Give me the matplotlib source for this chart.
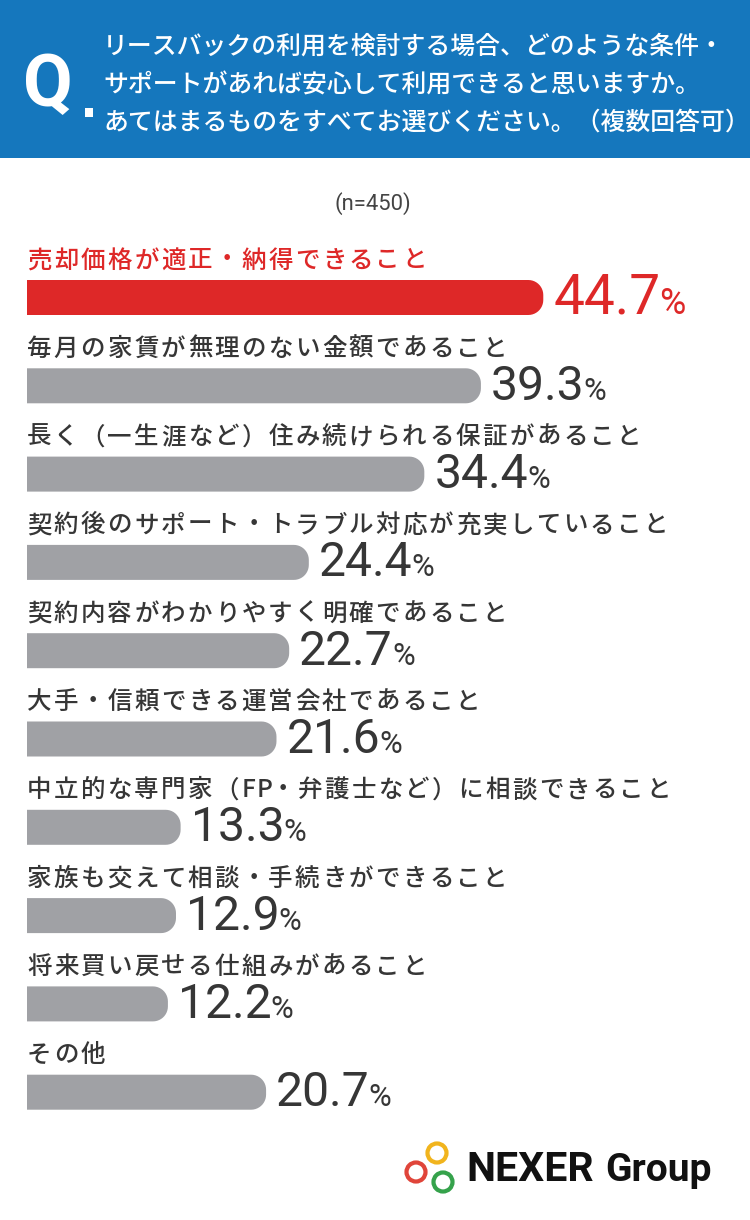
import matplotlib
matplotlib.use("Agg")
import numpy as np
import matplotlib.pyplot as plt
from matplotlib.patches import Rectangle, Circle, PathPatch
from matplotlib.path import Path

plt.rcParams['font.family'] = ['Noto Sans CJK JP', 'DejaVu Sans']

# data
question = [
    "リースバックの利用を検討する場合、どのような条件・",
    "サポートがあれば安心して利用できると思いますか。",
    "あてはまるものをすべてお選びください。（複数回答可）",
]
sample = "(n=450)"
labels = [
    "売却価格が適正・納得できること",
    "毎月の家賃が無理のない金額であること",
    "長く（一生涯など）住み続けられる保証があること",
    "契約後のサポート・トラブル対応が充実していること",
    "契約内容がわかりやすく明確であること",
    "大手・信頼できる運営会社であること",
    "中立的な専門家（FP・弁護士など）に相談できること",
    "家族も交えて相談・手続きができること",
    "将来買い戻せる仕組みがあること",
    "その他",
]
values = [44.7, 39.3, 34.4, 24.4, 22.7, 21.6, 13.3, 12.9, 12.2, 20.7]

BLUE = "#1577bd"
RED = "#de2828"
GRAY = "#a0a1a5"
TEXT = "#363636"

W, H = 750, 1220
fig = plt.figure(figsize=(W / 100, H / 100), dpi=100)
ax = fig.add_axes([0, 0, 1, 1])
ax.set_xlim(0, W)
ax.set_ylim(H, 0)
ax.axis('off')


def px(p):
    # pixel size -> points
    return p * 0.72


# header
ax.add_patch(Rectangle((0, 0), W, 158, fc=BLUE, ec='none'))
ax.text(23, 106, "Q", color='white', fontsize=px(72), fontweight='bold',
        family=['Roboto', 'DejaVu Sans'], va='baseline', ha='left')
ax.add_patch(Rectangle((85, 108), 8, 9, fc='white', ec='none'))
for i, line in enumerate(question):
    ax.text(103, [47, 86, 123][i], line, color='white', fontsize=px(24.9),
            fontweight='medium', va='center', ha='left')

ax.text(373, 204, sample, color='#444444', fontsize=px(22),
        family=['Roboto', 'DejaVu Sans'], ha='center', va='center')


def spaced(x, y, s, size, color, adv):
    for ch in s:
        ax.text(x, y, ch, color=color, fontsize=px(size), fontweight='medium',
                ha='left', va='center')
        x += adv * 0.55 if ch.isascii() else adv


def bar(x0, yc, w, h, color, r=15):
    top, bot = yc - h / 2, yc + h / 2
    xr = x0 + w - r
    a1 = np.linspace(-np.pi / 2, 0, 12)
    a2 = np.linspace(0, np.pi / 2, 12)
    verts = [(x0, top)]
    verts += [(xr + r * np.cos(a), top + r + r * np.sin(a)) for a in a1]
    verts += [(xr + r * np.cos(a), bot - r + r * np.sin(a)) for a in a2]
    verts += [(x0, bot), (x0, top)]
    ax.add_patch(PathPatch(Path(verts, closed=True), fc=color, ec='none', lw=0))


fig.canvas.draw()
renderer = fig.canvas.get_renderer()
inv = ax.transData.inverted()


def right_edge(t):
    bb = t.get_window_extent(renderer)
    return inv.transform((bb.x1, bb.y0))[0]


x0 = 27
scale = 11.55
bar_h = 35
for i, (lab, v) in enumerate(zip(labels, values)):
    yc = 297.5 + i * 88.3
    col = RED if i == 0 else GRAY
    tcol = RED if i == 0 else TEXT
    spaced(x0, yc - 37, lab, 24.5, tcol, 26.8)
    w = v * scale
    bar(x0, yc, w, bar_h, col)
    if i == 0:
        nsize, psize, base = 55, 36, yc + 16
    else:
        nsize, psize, base = 48, 31, yc + 14
    t = ax.text(x0 + w + 10, base, f"{v:.1f}", color=tcol, fontsize=px(nsize),
                family=['Roboto', 'DejaVu Sans'], ha='left', va='baseline')
    ax.text(right_edge(t) - 1, base, "%", color=tcol, fontsize=px(psize),
            family=['Roboto', 'DejaVu Sans'], ha='left', va='baseline')

# logo
for (cx, cy), c in zip([(416, 1172), (437, 1153), (443, 1182)],
                       ["#e0453a", "#f1b41d", "#35a24b"]):
    ax.add_patch(Circle((cx, cy), 9.5, fill=False, ec=c, lw=px(4.2)))
t = ax.text(466, 1181, "NEXER", color='#111111', fontsize=px(41), fontweight='bold',
            family=['Roboto', 'DejaVu Sans'], ha='left', va='baseline')
ax.text(right_edge(t) + 12, 1181, "Group", color='#111111', fontsize=px(39),
        fontweight='bold', family=['Roboto', 'DejaVu Sans'], ha='left', va='baseline')

fig.savefig("out.png", dpi=100, facecolor='white')
